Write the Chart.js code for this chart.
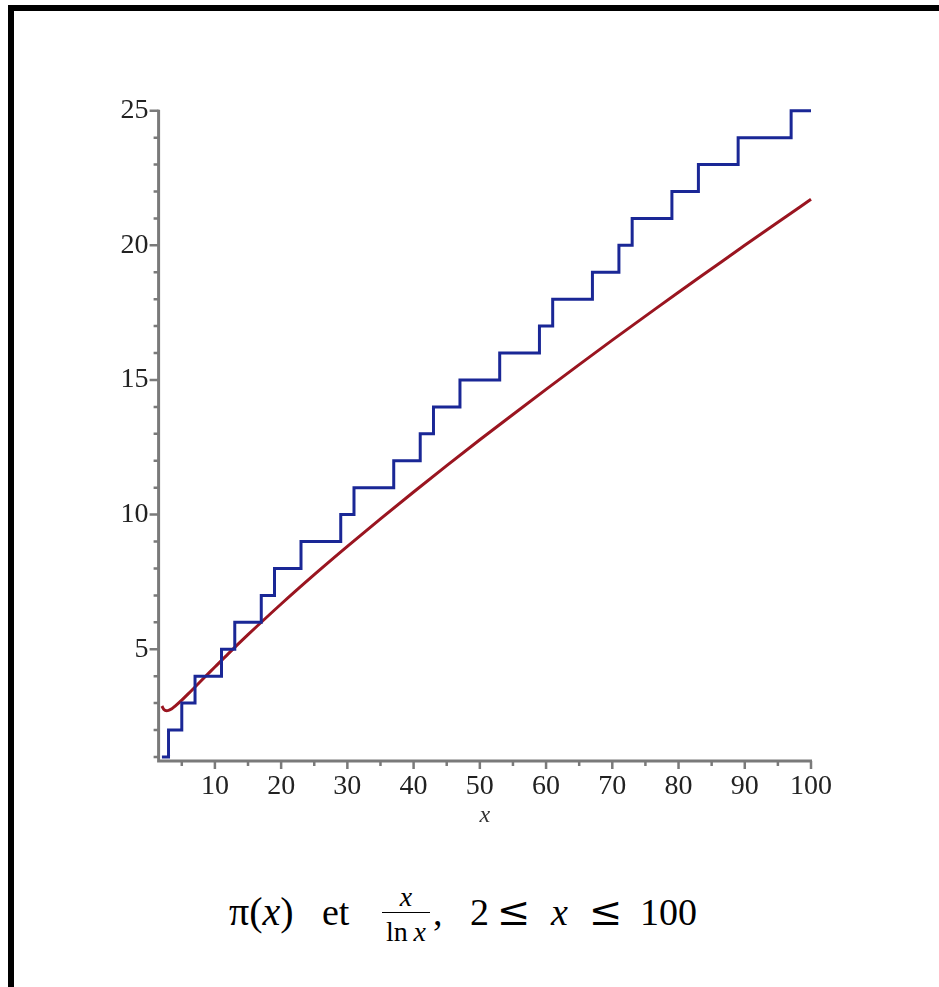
<!DOCTYPE html>
<html>
<head>
<meta charset="utf-8">
<script src="https://cdn.jsdelivr.net/npm/chart.js@4/dist/chart.umd.min.js"></script>
<style>
  html, body { margin: 0; padding: 0; background: #fff; width: 939px; height: 987px; overflow: hidden; }
  #frame {
    position: absolute; left: 8px; top: 5px; width: 960px; height: 1000px;
    border-left: 6px solid #000; border-top: 6px solid #000; box-sizing: border-box;
  }
  #plot { position: absolute; left: 0; top: 0; }
  .cap {
    position: absolute; white-space: nowrap; color: #000;
    font-family: "Liberation Serif", "Times New Roman", serif; line-height: 1;
  }
  .big { font-size: 38px; top: 893.2px; }
  .pi { font-size: 40px; top: 891.5px; }
  .rel { font-family: "DejaVu Serif", serif; font-size: 40px; top: 891.2px; }
  .small { font-size: 28px; }
  .cap i { font-style: italic; }
  #bar { position: absolute; left: 382px; top: 911.5px; width: 48px; height: 1.6px; background: #000; }
</style>
</head>
<body>
<div id="frame"></div>
<canvas id="plot" width="939" height="860"></canvas>
<!-- caption: π(x) et x / ln x, 2 ≤ x ≤ 100 -->
<span class="cap pi" style="left:229px">π(<i>x</i>)</span>
<span class="cap big" style="left:322px">et</span>
<span class="cap small" style="left:382px; width:48px; text-align:center; top:883.3px"><i>x</i></span>
<div id="bar"></div>
<span class="cap small" style="left:382px; width:48px; text-align:center; top:918.3px">ln&#8201;<i>x</i></span>
<span class="cap big" style="left:433px">,</span>
<span class="cap big" style="left:470px">2</span>
<span class="cap rel" style="left:497px">≤</span>
<span class="cap big" style="left:551px"><i>x</i></span>
<span class="cap rel" style="left:589px">≤</span>
<span class="cap big" style="left:640px">100</span>
<script>
// π(x): value after each prime up to 100, plus the closing point at x = 100
const stepX = [2, 3, 5, 7, 11, 13, 17, 19, 23, 29, 31, 37, 41, 43, 47, 53, 59, 61, 67, 71, 73, 79, 83, 89, 97, 100];
const stepY = [1, 2, 3, 4, 5, 6, 7, 8, 9, 10, 11, 12, 13, 14, 15, 16, 17, 18, 19, 20, 21, 22, 23, 24, 25, 25];

// x / ln x sampled along the curve
const curveX = [2, 2.3, 2.72, 3, 3.5, 4, 5, 6, 7, 8, 10, 12, 15, 20, 25, 30, 35, 40, 45, 50, 55, 60, 65, 70, 75, 80, 85, 90, 95, 100];
const curveY = [2.89, 2.76, 2.72, 2.73, 2.79, 2.89, 3.11, 3.35, 3.60, 3.85, 4.34, 4.83, 5.54, 6.68, 7.77, 8.82, 9.84, 10.84, 11.82, 12.78, 13.72, 14.65, 15.57, 16.48, 17.37, 18.26, 19.13, 20.00, 20.86, 21.71];

// axis ticks: labelled values and all tick marks
const xLabelTicks = [10, 20, 30, 40, 50, 60, 70, 80, 90, 100];
const yLabelTicks = [5, 10, 15, 20, 25];
const xMarkTicks = [5, 10, 15, 20, 25, 30, 35, 40, 45, 50, 55, 60, 65, 70, 75, 80, 85, 90, 95, 100];
const yMarkTicks = [1, 2, 3, 4, 5, 6, 7, 8, 9, 10, 11, 12, 13, 14, 15, 16, 17, 18, 19, 20, 21, 22, 23, 24, 25];

const axisColor = '#7a7a7a';
const blue = '#1a2796';
const red = '#9a1520';

// axis lines with long (labelled) and short tick marks pointing outward
const axesPlugin = {
  id: 'axesWithTicks',
  beforeDatasetsDraw(chart) {
    const { ctx, chartArea: { left, right, top, bottom }, scales: { x, y } } = chart;
    ctx.save();
    ctx.strokeStyle = axisColor;
    ctx.lineWidth = 3;
    ctx.beginPath();
    ctx.moveTo(left, top - 1);
    ctx.lineTo(left, bottom + 1.5);
    ctx.moveTo(left - 1.5, bottom);
    ctx.lineTo(right + 1, bottom);
    ctx.stroke();
    ctx.lineWidth = 2.5;
    ctx.beginPath();
    yMarkTicks.forEach(v => {
      const py = y.getPixelForValue(v);
      const len = yLabelTicks.includes(v) ? 9 : 5;
      ctx.moveTo(left, py);
      ctx.lineTo(left - len, py);
    });
    xMarkTicks.forEach(v => {
      const px = x.getPixelForValue(v);
      const len = xLabelTicks.includes(v) ? 8 : 5;
      ctx.moveTo(px, bottom);
      ctx.lineTo(px, bottom + len);
    });
    ctx.stroke();
    ctx.restore();
  }
};

const tickFont = { family: '"Liberation Serif", "Times New Roman", serif', size: 28 };

new Chart(document.getElementById('plot'), {
  type: 'line',
  data: {
    datasets: [
      {
        label: 'π(x)',
        data: stepX.map((v, i) => ({ x: v, y: stepY[i] })),
        borderColor: blue,
        borderWidth: 3,
        stepped: 'before',
        pointRadius: 0,
        fill: false,
        clip: 6
      },
      {
        label: 'x / ln x',
        data: curveX.map((v, i) => ({ x: v, y: curveY[i] })),
        borderColor: red,
        borderWidth: 3,
        cubicInterpolationMode: 'monotone',
        pointRadius: 0,
        fill: false,
        clip: 6
      }
    ]
  },
  options: {
    responsive: false,
    animation: false,
    devicePixelRatio: 1,
    layout: { padding: { left: 0, right: 128, top: 110.7, bottom: 0 } },
    plugins: { legend: { display: false }, tooltip: { enabled: false } },
    scales: {
      x: {
        type: 'linear',
        min: 1.5,
        max: 100,
        grid: { display: false, drawTicks: false },
        border: { display: false },
        afterBuildTicks: s => { s.ticks = xLabelTicks.map(v => ({ value: v })); },
        afterFit: s => { s.height = 99; },
        ticks: { color: '#222', font: tickFont, padding: 9, maxRotation: 0, autoSkip: false },
        title: {
          display: true,
          text: 'x',
          color: '#333',
          font: { family: '"Liberation Serif", "Times New Roman", serif', size: 24, style: 'italic' },
          padding: { top: 0, bottom: 30 }
        }
      },
      y: {
        type: 'linear',
        min: 0.85,
        max: 25,
        grid: { display: false, drawTicks: false },
        border: { display: false },
        afterBuildTicks: s => { s.ticks = yLabelTicks.map(v => ({ value: v })); },
        afterFit: s => { s.width = 158.6; },
        ticks: { color: '#222', font: tickFont, padding: 10, autoSkip: false }
      }
    }
  },
  plugins: [axesPlugin]
});
</script>
</body>
</html>
